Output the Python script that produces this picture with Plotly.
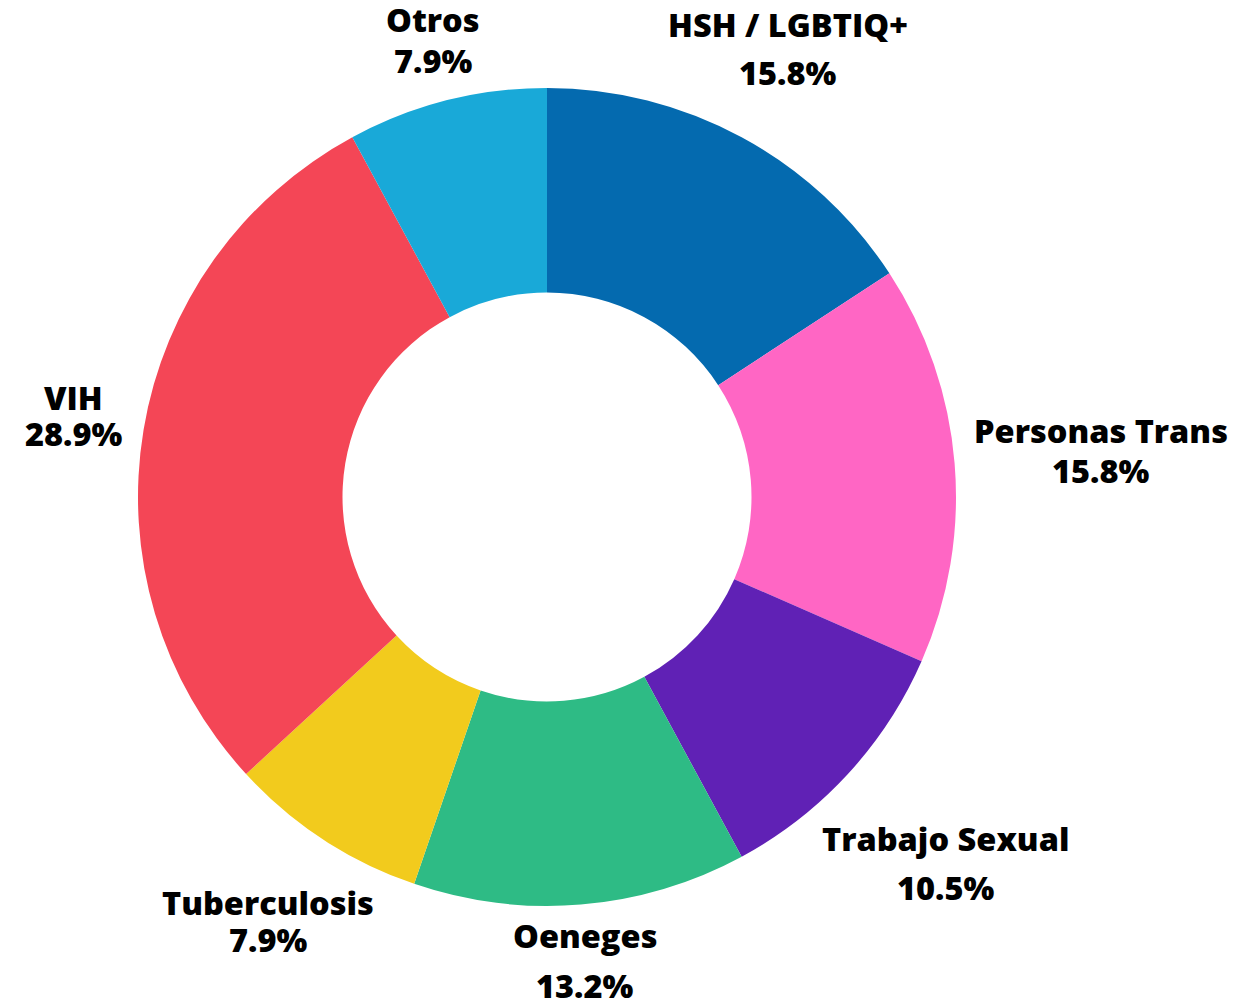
import math
import plotly.graph_objects as go

# ---- data ----
categories = ["HSH / LGBTIQ+", "Personas Trans", "Trabajo Sexual", "Oeneges",
              "Tuberculosis", "VIH", "Otros"]
counts = [6, 6, 4, 5, 3, 11, 3]
colors = ["#046AAF", "#FF66C4", "#6021B5", "#2EBB85", "#F2CB1D", "#F44656", "#19A9D8"]

# ---- style / layout ----
W, H = 1259, 1007
OFF = 8                              # page body margin of the html page
CX, CY, R = 547 - OFF, 497 - OFF, 409  # pie centre and outer radius (px, figure coords)
HOLE = 0.5
FONT = "Open Sans"
FSIZE = 32.5
TEXT_DY = -2
# per label: (xshift, yshift of name line, yshift of percent line) from the rim point
label_shifts = [(46, -111, -63), (146, -31, 9), (98, 66, 115), (4, 33, 83),
                (-55, 65, 102), (-70, -30, 6), (-14, -79, -38)]

fig = go.Figure()
fig.add_trace(go.Pie(
    labels=categories, values=counts, sort=False, direction="clockwise",
    rotation=0, hole=HOLE, textinfo="none", hoverinfo="label+percent",
    marker=dict(colors=colors, line=dict(width=0)),
    domain=dict(x=[(CX - R) / W, (CX + R) / W], y=[1 - (CY + R) / H, 1 - (CY - R) / H]),
    showlegend=False,
))

total = sum(counts)
cum = 0
for name, v, (dx, dy1, dy2) in zip(categories, counts, label_shifts):
    mid = (cum + v / 2) / total * 2 * math.pi
    cum += v
    px = CX + R * math.sin(mid)
    py = CY - R * math.cos(mid)
    xp, yp = px / W, 1 - py / H
    pct = f"{v / total * 100:.1f}%"
    for txt, dy in ((name, dy1), (pct, dy2)):
        fig.add_annotation(x=xp, y=yp, xref="paper", yref="paper", text=txt,
                           showarrow=False, xanchor="center", yanchor="middle",
                           xshift=dx, yshift=-(dy + TEXT_DY),
                           font=dict(family=FONT, size=FSIZE, color="#000000", weight=800))

fig.update_layout(width=W, height=H, margin=dict(l=0, r=0, t=0, b=0),
                  paper_bgcolor="white", plot_bgcolor="white")
fig.write_html("out.html")
